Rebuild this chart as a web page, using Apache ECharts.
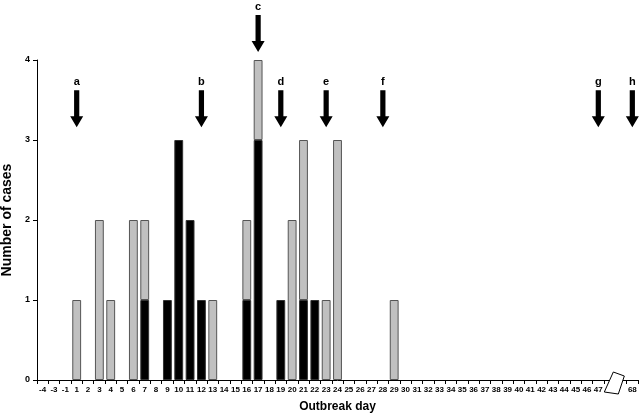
<!DOCTYPE html>
<html>
<head>
<meta charset="utf-8">
<script src="https://cdn.jsdelivr.net/npm/echarts@6/dist/echarts.min.js"></script>
<style>
  html, body { margin: 0; padding: 0; background: #fff; }
  #main { width: 640px; height: 417px; }
</style>
</head>
<body>
<div id="main"></div>
<script>
// x axis categories (outbreak day), with two gap slots for the axis break
const days = ['-4', '-3', '-1'];
for (let d = 1; d <= 47; d++) days.push(String(d));
days.push(' ', '  ');
days.push('68');

const yTicks = [0, 1, 2, 3, 4];

// cases per day: [day, count]
const blackCases = [['7', 1], ['9', 1], ['10', 3], ['11', 2], ['12', 1], ['16', 1], ['17', 3],
  ['19', 1], ['21', 1], ['22', 1]];
const greyCases = [['1', 1], ['3', 2], ['4', 1], ['6', 2], ['7', 1], ['13', 1], ['16', 1],
  ['17', 1], ['20', 2], ['21', 2], ['23', 1], ['24', 3], ['29', 1]];

// arrows: [day, letter, tall]
const arrows = [['1', 'a', 0], ['12', 'b', 0], ['17', 'c', 1], ['19', 'd', 0],
  ['23', 'e', 0], ['28', 'f', 0], ['47', 'g', 0], ['68', 'h', 0]];

function toSeries (pairs) {
  const out = days.map(() => null);
  pairs.forEach(([d, v]) => { out[days.indexOf(d)] = v; });
  return out;
}

const font = 'Liberation Sans, Arial, sans-serif';
const chart = echarts.init(document.getElementById('main'));

chart.setOption({
  animation: false,
  grid: { left: 37, right: 2, top: 60, bottom: 37, outerBoundsMode: 'none', containLabel: false },
  xAxis: {
    type: 'category',
    data: days,
    name: 'Outbreak day',
    nameLocation: 'middle',
    nameGap: 21,
    nameTextStyle: { fontFamily: font, fontWeight: 'bold', fontSize: 12, color: '#000' },
    axisLine: { lineStyle: { color: '#000', width: 1 } },
    axisTick: { show: true, alignWithLabel: false, interval: 0, length: 4, lineStyle: { color: '#000' } },
    axisLabel: { interval: 0, fontFamily: font, fontWeight: 'bold', fontSize: 8, color: '#000', margin: 6 }
  },
  yAxis: {
    type: 'value',
    min: 0, max: 4, interval: 1,
    name: 'Number of cases',
    nameLocation: 'middle',
    nameGap: 21,
    nameTextStyle: { fontFamily: font, fontWeight: 'bold', fontSize: 14, color: '#000' },
    axisLine: { show: true, lineStyle: { color: '#000', width: 1 } },
    axisTick: { show: true, length: 4, lineStyle: { color: '#000' } },
    splitLine: { show: false },
    axisLabel: {
      fontFamily: font, fontWeight: 'bold', fontSize: 9, color: '#000', margin: 7,
      formatter: v => yTicks.includes(v) ? String(v) : ''
    }
  },
  series: [
    {
      type: 'bar', stack: 'cases', data: toSeries(blackCases),
      barCategoryGap: '22%',
      itemStyle: { color: '#000', borderColor: '#333', borderWidth: 1 }
    },
    {
      type: 'bar', stack: 'cases', data: toSeries(greyCases),
      itemStyle: { color: '#c0c0c0', borderColor: '#555', borderWidth: 1 }
    },
    {
      type: 'custom',
      clip: false,
      silent: true,
      data: arrows.map(a => [days.indexOf(a[0]), a[2]]),
      renderItem: function (params, api) {
        const tall = api.value(1);
        const tip = api.coord([api.value(0), tall ? 4.1 : 3.16]);
        const x = tip[0], ty = tip[1];
        const len = 37, head = 11, hw = 6.5, sw = 2.6;
        const top = ty - len;
        return {
          type: 'group',
          children: [
            {
              type: 'polygon',
              shape: { points: [[x - sw, top], [x + sw, top], [x + sw, ty - head], [x + hw, ty - head],
                [x, ty], [x - hw, ty - head], [x - sw, ty - head]] },
              style: { fill: '#000' }
            },
            {
              type: 'text',
              style: { text: arrows[params.dataIndex][1], x: x, y: top - 3, align: 'center', verticalAlign: 'bottom',
                font: 'bold 11px ' + font, fill: '#000' }
            }
          ]
        };
      }
    },
    {
      // axis break symbol between day 47 and day 68
      type: 'custom',
      clip: false,
      silent: true,
      data: [[days.indexOf(' '), 0]],
      renderItem: function (params, api) {
        const p = api.coord([api.value(0), 0]);
        const size = api.size([1, 0]);
        const cx = p[0] + size[0] / 2, cy = p[1] + 3;
        return {
          type: 'polygon',
          shape: { points: [[cx - 2, cy - 11], [cx + 9, cy - 7], [cx + 3, cy + 11], [cx - 11, cy + 9]] },
          style: { fill: '#fff', stroke: '#000', lineWidth: 1 }
        };
      }
    }
  ]
});
</script>
</body>
</html>
